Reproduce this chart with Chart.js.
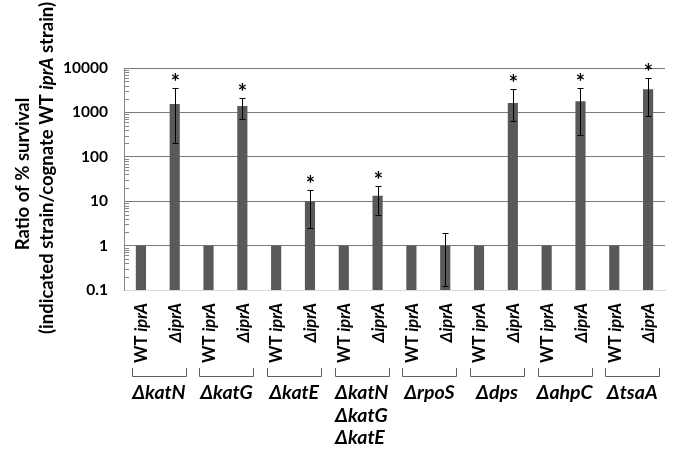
<!DOCTYPE html>
<html><head><meta charset="utf-8">
<script src="https://cdn.jsdelivr.net/npm/chart.js@4.4.0/dist/chart.umd.min.js"></script>
<style>html,body{margin:0;padding:0;background:#fff}#wrap{width:675px;height:449px}</style>
</head><body><div id="wrap"><canvas id="c" width="675" height="449"></canvas></div>
<script>
// ---- data ----
const categories = ['WT iprA','ΔiprA','WT iprA','ΔiprA','WT iprA','ΔiprA','WT iprA','ΔiprA',
                    'WT iprA','ΔiprA','WT iprA','ΔiprA','WT iprA','ΔiprA','WT iprA','ΔiprA'];
const groupLabels = [['ΔkatN'],['ΔkatG'],['ΔkatE'],['ΔkatN','ΔkatG','ΔkatE'],['ΔrpoS'],['Δdps'],['ΔahpC'],['ΔtsaA']];
const values   = [1, 1550, 1, 1400, 1, 10,  1, 13.3, 1, 1,     1, 1620, 1, 1780, 1, 3320];
const errHigh  = [null, 3550, null, 2150, null, 18,  null, 22,  null, 1.93,  null, 3380, null, 3490, null, 6050];
const errLow   = [null, 204,  null, 715,  null, 2.5, null, 4.8, null, 0.126, null, 630,  null, 317,  null, 815];
const significant = [false,true,false,true,false,true,false,true,false,false,false,true,false,true,false,true];
const yTickValues = [0.1, 1, 10, 100, 1000, 10000];
const yTitleLine1 = 'Ratio of % survival';
const yTitleLine2 = [['(indicated strain/cognate WT ', false], ['iprA', true], [' strain)', false]];

const FONT = "Lato, 'Noto Sans', sans-serif";

function segmentsFor(label) {
  if (label.startsWith('WT ')) return [['WT ', false], [label.slice(3), true]];
  return [[label, true]];
}
function drawSegments(ctx, segs, size, align) {
  let total = 0;
  const widths = segs.map(([t, it]) => { ctx.font = (it ? 'italic ' : '') + 'bold ' + size + 'px ' + FONT; const w = ctx.measureText(t).width; total += w; return w; });
  let x = align === 'right' ? -total : align === 'center' ? -total / 2 : 0;
  ctx.textAlign = 'left';
  segs.forEach(([t, it], i) => { ctx.font = (it ? 'italic ' : '') + 'bold ' + size + 'px ' + FONT; ctx.fillText(t, x, 0); x += widths[i]; });
}

const decor = {
  id: 'decor',
  beforeDatasetsDraw(chart) {
    const ctx = chart.ctx, y = chart.scales.y, left = chart.chartArea.left;
    ctx.save();
    ctx.strokeStyle = '#868686'; ctx.lineWidth = 1;
    for (let e = -1; e <= 3; e++) {
      for (let k = 2; k <= 9; k++) {
        const py = Math.round(y.getPixelForValue(k * Math.pow(10, e))) + 0.5;
        ctx.beginPath(); ctx.moveTo(left, py); ctx.lineTo(left + 5, py); ctx.stroke();
      }
    }
    ctx.restore();
  },
  afterDatasetsDraw(chart) {
    const ctx = chart.ctx, y = chart.scales.y, xs = chart.scales.x;
    ctx.save();
    ctx.strokeStyle = '#000'; ctx.fillStyle = '#000'; ctx.lineWidth = 1;
    values.forEach((v, i) => {
      if (errHigh[i] == null) return;
      const x = Math.round(xs.getPixelForValue(i)) + 0.5;
      const yt = Math.round(y.getPixelForValue(errHigh[i])) + 0.5;
      const yb = Math.round(y.getPixelForValue(errLow[i])) + 0.5;
      ctx.beginPath();
      ctx.moveTo(x, yt); ctx.lineTo(x, yb);
      ctx.moveTo(x - 3, yt); ctx.lineTo(x + 3, yt);
      ctx.moveTo(x - 3, yb); ctx.lineTo(x + 3, yb);
      ctx.stroke();
      if (significant[i]) {
        ctx.font = 'bold 22px ' + FONT; ctx.textAlign = 'center'; ctx.textBaseline = 'alphabetic';
        ctx.fillText('*', x, yt + 1);
      }
    });
    ctx.restore();
  },
  afterDraw(chart) {
    const ctx = chart.ctx, xs = chart.scales.x, bottom = chart.chartArea.bottom;
    ctx.save();
    ctx.fillStyle = '#000';
    // category labels (rotated)
    categories.forEach((c, i) => {
      const x = xs.getPixelForValue(i);
      ctx.save();
      ctx.translate(x + 1, bottom + 13);
      ctx.rotate(-Math.PI / 2);
      ctx.textBaseline = 'middle';
      drawSegments(ctx, segmentsFor(c), 16.5, 'right');
      ctx.restore();
    });
    // brackets + group labels
    groupLabels.forEach((lines, g) => {
      const cx = (xs.getPixelForValue(2 * g) + xs.getPixelForValue(2 * g + 1)) / 2 + 1;
      const x0 = Math.round(cx - 27) + 0.5, x1 = Math.round(cx + 27) + 0.5;
      const yTop = bottom + 78, yLine = Math.round(bottom + 86) + 0.5;
      ctx.strokeStyle = '#5e5e5e'; ctx.lineWidth = 1;
      ctx.beginPath();
      ctx.moveTo(x0, yTop); ctx.lineTo(x0, yLine); ctx.lineTo(x1, yLine); ctx.lineTo(x1, yTop);
      ctx.stroke();
      ctx.font = 'italic bold 19.5px ' + FONT;
      ctx.textBaseline = 'alphabetic';
      if (lines.length === 1) {
        ctx.textAlign = 'center';
        ctx.fillText(lines[0], cx, bottom + 109);
      } else {
        const maxW = Math.max(...lines.map(l => ctx.measureText(l).width));
        ctx.textAlign = 'left';
        lines.forEach((l, k) => ctx.fillText(l, cx - maxW / 2, bottom + 109 + k * 22.5));
      }
    });
    // y title
    ctx.save();
    ctx.translate(23, 174); ctx.rotate(-Math.PI / 2);
    ctx.textBaseline = 'middle';
    drawSegments(ctx, [[yTitleLine1, false]], 18.5, 'center');
    ctx.restore();
    ctx.save();
    ctx.translate(47, 168); ctx.rotate(-Math.PI / 2);
    ctx.textBaseline = 'middle';
    drawSegments(ctx, yTitleLine2, 18.5, 'center');
    ctx.restore();
    ctx.restore();
  }
};

new Chart(document.getElementById('c'), {
  type: 'bar',
  data: {
    labels: categories,
    datasets: [{ data: values, backgroundColor: '#595959', barPercentage: 0.3, categoryPercentage: 1 }]
  },
  options: {
    responsive: false,
    animation: false,
    layout: { padding: { left: 0, right: 10, top: 68, bottom: 159 } },
    plugins: { legend: { display: false }, tooltip: { enabled: false } },
    scales: {
      x: {
        ticks: { display: false },
        grid: { display: false },
        border: { display: true, color: '#d9d9d9', width: 1 },
        afterFit: s => { s.height = 0; }
      },
      y: {
        type: 'logarithmic', min: 0.1, max: 10000,
        afterBuildTicks: s => { s.ticks = yTickValues.map(v => ({ value: v, major: true })); },
        ticks: { callback: v => String(v), font: { family: FONT, weight: 'bold', size: 15.5 }, color: '#000', padding: 16, autoSkip: false },
        grid: { drawTicks: false, lineWidth: 1, color: c => (c.tick && c.tick.value === 0.1) ? 'rgba(0,0,0,0)' : '#7a7a7a' },
        border: { display: true, color: '#868686', width: 1 },
        afterFit: s => { s.width = 124; }
      }
    }
  },
  plugins: [decor]
});
</script></body></html>
